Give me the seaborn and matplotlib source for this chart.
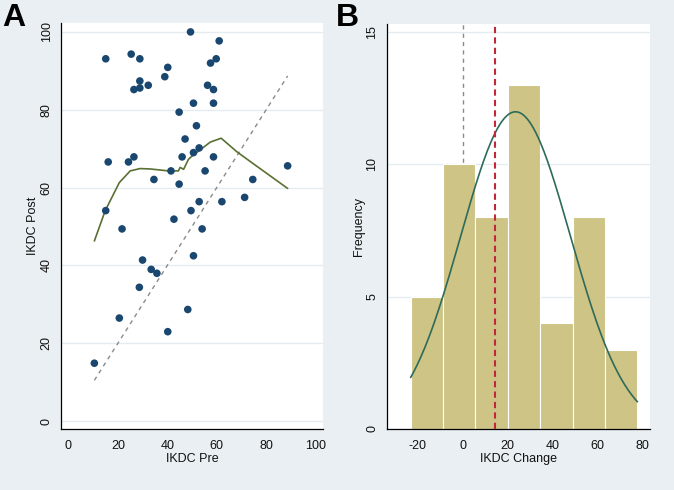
import numpy as np
import pandas as pd
import seaborn as sns
import matplotlib.pyplot as plt

# panel A: IKDC pre vs post
ikdc_pre = [15.1, 25.4, 28.9, 49.4, 61.0, 59.8, 57.5, 40.2, 39.0, 28.9,
            26.5, 28.9, 32.3, 56.3, 58.7, 50.6, 58.7, 44.8, 51.8, 47.2,
            16.1, 24.3, 26.5, 46.0, 50.6, 52.9, 58.7, 88.7, 41.5, 55.3,
            34.6, 44.8, 74.6, 15.1, 52.9, 62.1, 71.3, 49.6, 42.7, 21.7,
            54.1, 50.6, 30.0, 33.5, 35.8, 28.7, 48.3, 20.6, 40.2, 10.5]
ikdc_post = [93.1, 94.3, 93.1, 100.0, 97.7, 93.1, 92.0, 90.9, 88.5, 87.4,
             85.2, 85.6, 86.3, 86.3, 85.2, 81.7, 81.7, 79.4, 75.9, 72.5,
             66.6, 66.6, 67.9, 67.9, 69.0, 70.2, 67.9, 65.6, 64.3, 64.3,
             62.1, 60.9, 62.1, 54.1, 56.4, 56.4, 57.5, 54.1, 51.9, 49.4,
             49.4, 42.5, 41.4, 39.0, 38.0, 34.4, 28.7, 26.5, 23.0, 14.9]

# lowess smooth
lowess_x = [10.5, 14.9, 20.6, 25.0, 29.0, 33.1, 40.5, 44.5, 45.2, 46.6,
            48.6, 50.0, 53.3, 57.4, 61.8, 68.2, 73.6, 88.7]
lowess_y = [46.3, 54.1, 61.3, 64.3, 64.9, 64.8, 64.3, 64.3, 65.2, 64.7,
            67.3, 68.1, 69.7, 71.7, 72.7, 69.2, 66.7, 59.8]

# panel B: histogram of IKDC change
bin_edges = [-23.2, -8.77, 5.66, 20.09, 34.51, 48.94, 63.37, 77.8]
bin_counts = [5, 10, 8, 13, 4, 8, 3]
norm_mean = 23.5
norm_sd = 24.5
ref_line = 14.3

bg = "#e9eff2"
navy = "#1a476f"

sns.set_style("white")
plt.rcParams["font.family"] = ["Liberation Sans", "DejaVu Sans"]
plt.rcParams["font.size"] = 9
plt.rcParams["axes.unicode_minus"] = False
plt.rcParams["text.color"] = "#111111"
plt.rcParams["axes.labelcolor"] = "#111111"
plt.rcParams["xtick.color"] = "#111111"
plt.rcParams["ytick.color"] = "#111111"

fig = plt.figure(figsize=(6.74, 4.90), dpi=100, facecolor=bg)
ax1 = fig.add_axes([0.0905, 0.1245, 0.3887, 0.8286])
ax2 = fig.add_axes([0.5737, 0.1245, 0.3907, 0.8265])

df = pd.DataFrame({"pre": ikdc_pre, "post": ikdc_post})
sns.scatterplot(data=df, x="pre", y="post", ax=ax1, color=navy, s=30,
                edgecolor="none", zorder=3)
diag = [min(ikdc_pre), max(ikdc_pre)]
ax1.plot(diag, diag, ls=(0, (3, 3)), color="#8a8a8a", lw=1, zorder=2)
sns.lineplot(x=lowess_x, y=lowess_y, ax=ax1, color="#5a7032", lw=1.2,
             sort=False, zorder=2)
ax1.set_xlim(-3, 103)
ax1.set_ylim(-2, 102.3)
ax1.set_xticks(range(0, 101, 20))
ax1.set_yticks(range(0, 101, 20))
ax1.set_xlabel("IKDC Pre", labelpad=1)
ax1.set_ylabel("IKDC Post", labelpad=1)

mids = [(a + b) / 2 for a, b in zip(bin_edges[:-1], bin_edges[1:])]
sns.histplot(x=mids, weights=bin_counts, bins=bin_edges, ax=ax2,
             color="#cdc486", edgecolor="white", linewidth=0.8, alpha=1,
             zorder=2)
width = bin_edges[1] - bin_edges[0]
xs = np.linspace(bin_edges[0], bin_edges[-1], 200)
ys = sum(bin_counts) * width * np.exp(-0.5 * ((xs - norm_mean) / norm_sd) ** 2) / (norm_sd * np.sqrt(2 * np.pi))
ax2.plot(xs, ys, color="#2e6b5a", lw=1.2, zorder=3)
ax2.axvline(0, color="#8a8a8a", ls=(0, (3, 3)), lw=1, zorder=1)
ax2.axvline(ref_line, color="#c0283a", ls=(0, (3, 2)), lw=1.5, zorder=4)
ax2.set_xlim(-33.9, 83.4)
ax2.set_ylim(0, 15.3)
ax2.set_xticks(range(-20, 81, 20))
ax2.set_yticks([0, 5, 10, 15])
ax2.set_xlabel("IKDC Change", labelpad=1)
ax2.set_ylabel("Frequency", labelpad=1)

for ax in (ax1, ax2):
    ax.set_facecolor("white")
    ax.yaxis.grid(True, color="#e4ecf0", lw=1)
    ax.set_axisbelow(True)
    for side in ("top", "right"):
        ax.spines[side].set_visible(False)
    for side in ("left", "bottom"):
        ax.spines[side].set_color("black")
        ax.spines[side].set_linewidth(0.9)
    ax.tick_params(direction="out", length=4, width=0.8, color="black",
                   labelsize=9, pad=2)
    ax.tick_params(axis="x", pad=4)
    for lab in ax.get_yticklabels():
        lab.set_rotation(90)
        lab.set_va("center")

fig.text(0.004, 0.994, "A", fontsize=23, fontweight="heavy", va="top",
         color="black")
fig.text(0.499, 0.994, "B", fontsize=23, fontweight="heavy", va="top",
         color="black")

fig.savefig("out.png", dpi=100, facecolor=bg)
